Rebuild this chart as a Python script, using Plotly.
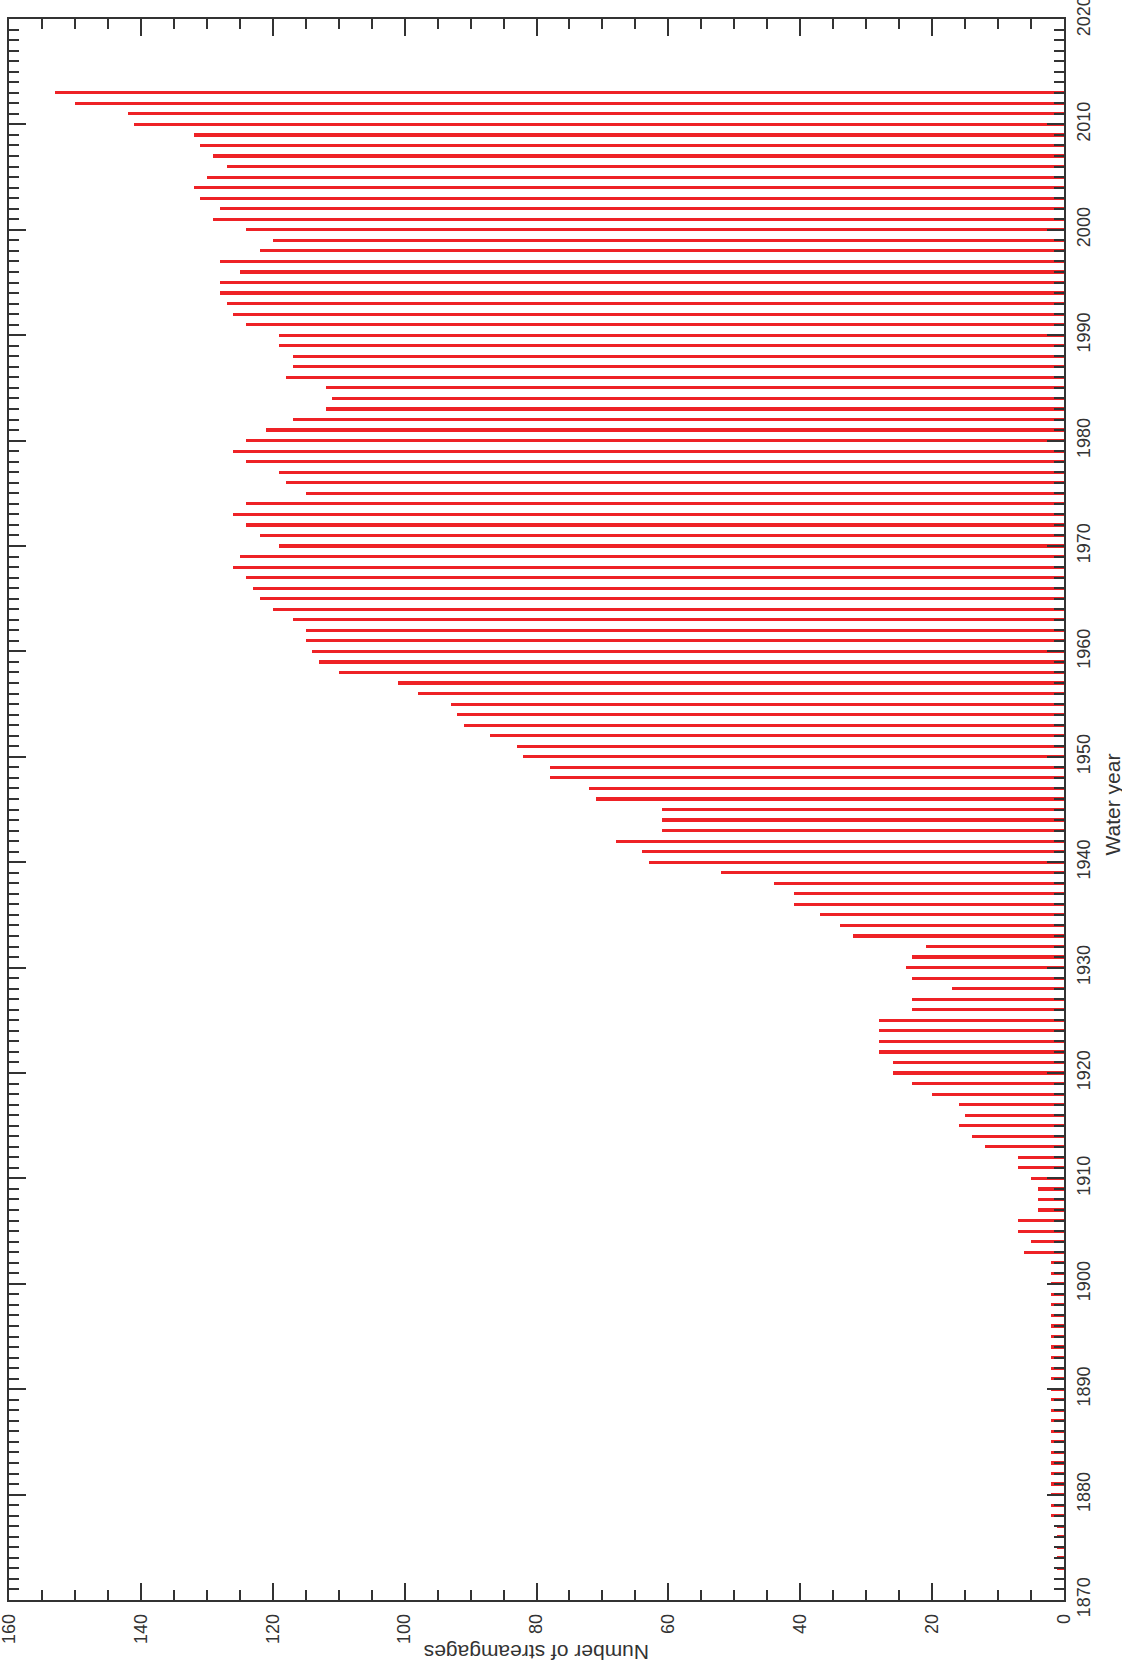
import plotly.graph_objects as go

years = list(range(1873, 2014))
counts = (
    [1] * 5 +          # 1873-1877
    [2] * 25 +         # 1878-1902
    [6, 5, 7, 7, 4, 4, 4, 5, 7, 7,          # 1903-1912
     12, 14, 16, 15, 16, 20, 23, 26, 26, 28,  # 1913-1922
     28, 28, 28, 23, 23, 17, 23, 24, 23, 21,  # 1923-1932
     32, 34, 37, 41, 41, 44, 52, 63, 64, 68,  # 1933-1942
     61, 61, 61, 71, 72, 78, 78, 82, 83, 87,  # 1943-1952
     91, 92, 93, 98, 101, 110, 113, 114, 115, 115,  # 1953-1962
     117, 120, 122, 123, 124, 126, 125, 119, 122, 124,  # 1963-1972
     126, 124, 115, 118, 119, 124, 126, 124, 121, 117,  # 1973-1982
     112, 111, 112, 118, 117, 117, 119, 119, 124, 126,  # 1983-1992
     127, 128, 128, 125, 128, 122, 120, 124, 129, 128,  # 1993-2002
     131, 132, 130, 127, 129, 131, 132, 141, 142, 150,  # 2003-2012
     153]                                               # 2013
)

count_ticks = [0, 20, 40, 60, 80, 100, 120, 140, 160]
year_ticks = [1870, 1880, 1890, 1900, 1910, 1920, 1930, 1940, 1950, 1960,
              1970, 1980, 1990, 2000, 2010, 2020]

FONT = "Liberation Sans Narrow, Arial Narrow, Liberation Sans, sans-serif"
AX = "#333333"

fig = go.Figure()
fig.add_trace(go.Bar(
    x=counts, y=years, orientation="h", width=0.3,
    marker=dict(color="#EE2226", line=dict(width=0)),
    hoverinfo="x+y",
))

fig.update_layout(
    width=1122, height=1666,
    margin=dict(l=9, r=58, t=19, b=66, pad=0),
    paper_bgcolor="white", plot_bgcolor="white",
    showlegend=False,
    font=dict(family=FONT, size=18, color="#333333"),
    bargap=0,
)

fig.update_xaxes(
    range=[160, 0], tickmode="array", tickvals=count_ticks,
    ticktext=[str(v) for v in count_ticks],
    tickangle=-90, ticks="inside", ticklen=17, tickwidth=1.5, tickcolor=AX,
    minor=dict(dtick=5, tick0=0, ticks="inside", ticklen=10, tickwidth=1.5, tickcolor=AX),
    showline=True, linecolor=AX, linewidth=1.5, mirror="ticks",
    showgrid=False, zeroline=False, ticklabelstandoff=5, automargin=False,
    ticklabeloverflow="allow",
    tickfont=dict(family=FONT, size=18, color="#333333"),
)
fig.update_yaxes(
    range=[1870, 2020], side="right", tickmode="array", tickvals=year_ticks,
    ticktext=[str(v) for v in year_ticks],
    tickangle=-90, ticks="inside", ticklen=17, tickwidth=1.5, tickcolor=AX,
    minor=dict(dtick=1, tick0=1870, ticks="inside", ticklen=10, tickwidth=1.5, tickcolor=AX),
    showline=True, linecolor=AX, linewidth=1.5, mirror="ticks",
    showgrid=False, zeroline=False, ticklabelstandoff=3, automargin=False,
    ticklabeloverflow="allow",
    tickfont=dict(family=FONT, size=18, color="#333333"),
)

fig.add_annotation(
    text="Water year", xref="paper", yref="paper", x=1, y=0.5,
    xanchor="center", yanchor="middle", xshift=48, yshift=5,
    textangle=-90, showarrow=False,
    font=dict(family=FONT, size=21, color="#333333"),
)
fig.add_annotation(
    text="Number of streamgages", xref="paper", yref="paper", x=0.5, y=0,
    xanchor="center", yanchor="middle", yshift=-53,
    textangle=180, showarrow=False,
    font=dict(family=FONT, size=21, color="#333333"),
)

fig.write_html("out.html", config={"displayModeBar": False},
               post_script="document.body.style.margin='0';")
